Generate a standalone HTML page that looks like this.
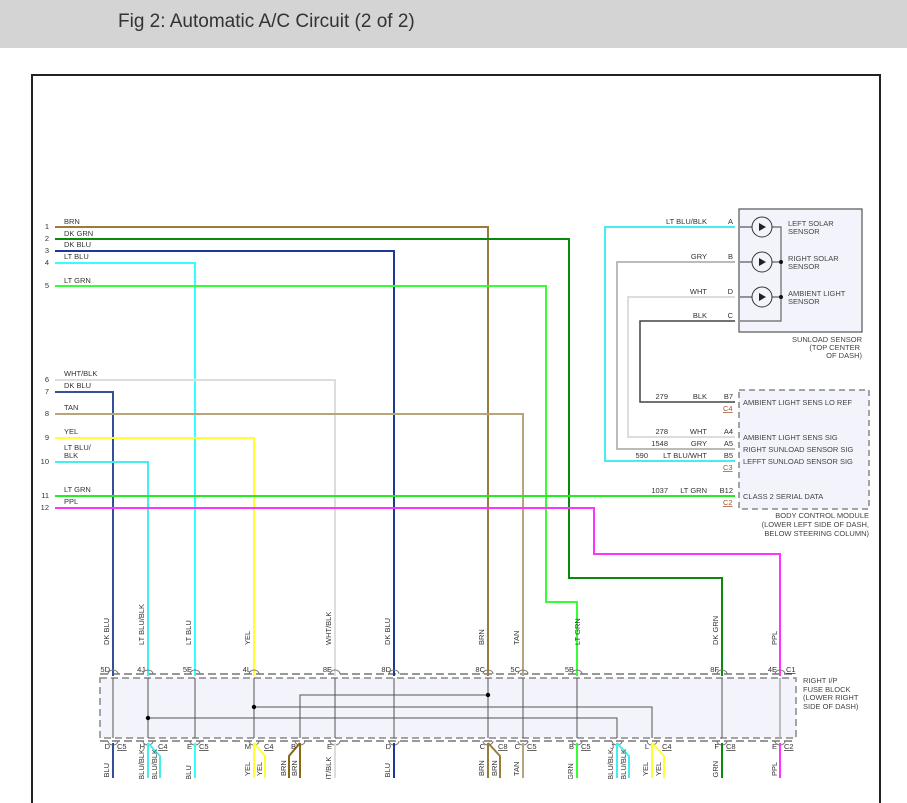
<!DOCTYPE html>
<html><head><meta charset="utf-8"><style>
html,body{margin:0;padding:0;background:#fff;width:907px;height:803px;overflow:hidden}
svg{display:block;font-family:"Liberation Sans",sans-serif}
</style></head><body>
<svg width="907" height="803" viewBox="0 0 907 803" xmlns="http://www.w3.org/2000/svg">
<rect x="0" y="0" width="907" height="48" fill="#d4d4d4"/>
<text x="118" y="27" font-size="19" fill="#333">Fig 2: Automatic A/C Circuit (2 of 2)</text>
<path d="M32 803 V75 H880 V803" fill="none" stroke="#222" stroke-width="2"/>

<!-- sunload sensor box -->
<rect x="739" y="209" width="123" height="123" fill="#f3f3fc" stroke="#555" stroke-width="1.2"/>
<path d="M772 227 H781 V321 H740 M772 262 H781 M772 297 H781" fill="none" stroke="#666" stroke-width="1.2"/>
<circle cx="781" cy="262" r="2" fill="#111"/><circle cx="781" cy="297" r="2" fill="#111"/>
<g fill="none" stroke="#333" stroke-width="1">
<circle cx="762" cy="227" r="10"/><circle cx="762" cy="262" r="10"/><circle cx="762" cy="297" r="10"/>
<path d="M740 227 H752 M740 262 H752 M740 297 H752"/>
</g>
<g fill="#222"><path d="M759 223 L766 227 L759 231Z"/><path d="M759 258 L766 262 L759 266Z"/><path d="M759 293 L766 297 L759 301Z"/></g>
<g font-size="7.5" fill="#444">
<text x="788" y="226">LEFT SOLAR</text><text x="788" y="234">SENSOR</text>
<text x="788" y="261">RIGHT SOLAR</text><text x="788" y="269">SENSOR</text>
<text x="788" y="296">AMBIENT LIGHT</text><text x="788" y="304">SENSOR</text>
<text x="862" y="342" text-anchor="end">SUNLOAD SENSOR</text>
<text x="860" y="350" text-anchor="end">(TOP CENTER</text>
<text x="862" y="358" text-anchor="end">OF DASH)</text>
</g>

<!-- BCM -->
<rect x="739" y="390" width="130" height="119" fill="#f3f3fc" stroke="#888" stroke-width="1.5" stroke-dasharray="6,4"/>
<g font-size="7.5" fill="#444">
<text x="743" y="405">AMBIENT LIGHT SENS LO REF</text>
<text x="743" y="440">AMBIENT LIGHT SENS SIG</text>
<text x="743" y="452">RIGHT SUNLOAD SENSOR SIG</text>
<text x="743" y="464">LEFFT SUNLOAD SENSOR SIG</text>
<text x="743" y="499">CLASS 2 SERIAL DATA</text>
<text x="869" y="518" text-anchor="end">BODY CONTROL MODULE</text>
<text x="869" y="527" text-anchor="end">(LOWER LEFT SIDE OF DASH,</text>
<text x="869" y="536" text-anchor="end">BELOW STEERING COLUMN)</text>
</g>

<!-- fuse block -->
<rect x="100" y="678" width="696" height="60" fill="#f3f3fc" stroke="#888" stroke-width="1.5" stroke-dasharray="7,4"/>
<path d="M100 674 H796 M100 741 H796" stroke="#777" stroke-width="1.5" stroke-dasharray="8,4"/>
<g font-size="7.5" fill="#444">
<text x="803" y="683">RIGHT I/P</text><text x="803" y="692">FUSE BLOCK</text>
<text x="803" y="700">(LOWER RIGHT</text><text x="803" y="709">SIDE OF DASH)</text>
</g>

<!-- wires top -->
<g fill="none" stroke-width="2">
<path d="M55 227 H488 V676" stroke="#9b7b3a"/>
<path d="M55 239 H569 V578 H722 V676" stroke="#0a8a0a"/>
<path d="M55 251 H394 V676" stroke="#1a3a9a"/>
<path d="M55 263 H195 V676" stroke="#3ff"/>
<path d="M55 286 H546 V602 H577 V676" stroke="#3f3"/>
<path d="M55 380 H335 V676" stroke="#ddd"/>
<path d="M55 392 H113 V676" stroke="#33509a"/>
<path d="M55 414 H523 V676" stroke="#b8a47a"/>
<path d="M55 438 H254 V676" stroke="#ff3"/>
<path d="M55 462 H148 V676" stroke="#4ee"/>
<path d="M55 496 H735" stroke="#2e2"/>
<path d="M55 508 H594 V554 H780 V676" stroke="#f3f"/>
<path d="M735 227 H605 V461 H735" stroke="#4ee"/>
<path d="M735 262 H617 V449 H735" stroke="#bbb"/>
<path d="M735 297 H628 V437 H735" stroke="#ddd"/>
<path d="M735 321 H640 V402 H735" stroke="#444" stroke-width="1.5"/>
</g>
<g font-size="7.5" fill="#333">
<text x="64" y="224">BRN</text><text x="64" y="236">DK GRN</text><text x="64" y="247">DK BLU</text><text x="64" y="259">LT BLU</text>
<text x="64" y="283">LT GRN</text><text x="64" y="376">WHT/BLK</text><text x="64" y="388">DK BLU</text><text x="64" y="410">TAN</text>
<text x="64" y="434">YEL</text><text x="64" y="450">LT BLU/</text><text x="64" y="458">BLK</text>
<text x="64" y="492">LT GRN</text><text x="64" y="504">PPL</text>
</g>
<g font-size="7.5" fill="#333" text-anchor="end">
<text x="49" y="229">1</text><text x="49" y="241">2</text><text x="49" y="253">3</text><text x="49" y="265">4</text><text x="49" y="288">5</text>
<text x="49" y="382">6</text><text x="49" y="394">7</text><text x="49" y="416">8</text><text x="49" y="440">9</text><text x="49" y="464">10</text>
<text x="49" y="498">11</text><text x="49" y="510">12</text>
<text x="707" y="224">LT BLU/BLK</text><text x="733" y="224">A</text>
<text x="707" y="259">GRY</text><text x="733" y="259">B</text>
<text x="707" y="294">WHT</text><text x="733" y="294">D</text>
<text x="707" y="318">BLK</text><text x="733" y="318">C</text>
<text x="668" y="399">279</text><text x="707" y="399">BLK</text><text x="733" y="399">B7</text>
<text x="668" y="434">278</text><text x="707" y="434">WHT</text><text x="733" y="434">A4</text>
<text x="668" y="446">1548</text><text x="707" y="446">GRY</text><text x="733" y="446">A5</text>
<text x="648" y="458">590</text><text x="707" y="458">LT BLU/WHT</text><text x="733" y="458">B5</text>
<text x="668" y="493">1037</text><text x="707" y="493">LT GRN</text><text x="733" y="493">B12</text>
</g>
<g font-size="7.5" fill="#a0522d" text-decoration="underline">
<text x="723" y="411">C4</text><text x="723" y="470">C3</text><text x="723" y="505">C2</text>
</g>

<!-- vertical labels above fuse block -->
<g font-size="7.5" fill="#333">
<text transform="translate(109,645) rotate(-90)">DK BLU</text>
<text transform="translate(144,645) rotate(-90)">LT BLU/BLK</text>
<text transform="translate(191,645) rotate(-90)">LT BLU</text>
<text transform="translate(250,645) rotate(-90)">YEL</text>
<text transform="translate(331,645) rotate(-90)">WHT/BLK</text>
<text transform="translate(390,645) rotate(-90)">DK BLU</text>
<text transform="translate(484,645) rotate(-90)">BRN</text>
<text transform="translate(519,645) rotate(-90)">TAN</text>
<text transform="translate(580,645) rotate(-90)">LT GRN</text>
<text transform="translate(718,645) rotate(-90)">DK GRN</text>
<text transform="translate(777,645) rotate(-90)">PPL</text>
</g>
<g font-size="7.5" fill="#333" text-anchor="end">
<text x="110" y="672">5D</text><text x="145" y="672">4J</text><text x="192" y="672">5E</text><text x="251" y="672">4L</text>
<text x="332" y="672">8E</text><text x="391" y="672">8D</text><text x="485" y="672">8C</text><text x="520" y="672">5C</text>
<text x="574" y="672">5B</text><text x="719" y="672">8F</text><text x="777" y="672">4E</text>
</g>
<text x="786" y="672" font-size="7.5" fill="#333" text-decoration="underline">C1</text>

<!-- internal connections -->
<g fill="none" stroke="#555" stroke-width="1">
<path d="M113 678 V738 M148 678 V738 M195 678 V738 M254 678 V738 M335 678 V738 M394 678 V738 M488 678 V738 M523 678 V738 M577 678 V738 M722 678 V738"/>
<path d="M780 678 V738" stroke="#aaa" stroke-width="1.5"/>
<path d="M488 695 H300 V738 M254 707 H652 V738 M148 718 H617 V738"/>
</g>
<g fill="#000"><circle cx="488" cy="695" r="2.2"/><circle cx="254" cy="707" r="2.2"/><circle cx="148" cy="718" r="2.2"/></g>
<g fill="none" stroke="#777" stroke-width="1">
<path d="M108 674 a5 4 0 0 1 10 0 M143 674 a5 4 0 0 1 10 0 M190 674 a5 4 0 0 1 10 0 M249 674 a5 4 0 0 1 10 0 M330 674 a5 4 0 0 1 10 0 M389 674 a5 4 0 0 1 10 0 M483 674 a5 4 0 0 1 10 0 M518 674 a5 4 0 0 1 10 0 M572 674 a5 4 0 0 1 10 0 M717 674 a5 4 0 0 1 10 0 M775 674 a5 4 0 0 1 10 0"/>
<path d="M108 741 a5 4 0 0 0 10 0 M143 741 a5 4 0 0 0 10 0 M190 741 a5 4 0 0 0 10 0 M249 741 a5 4 0 0 0 10 0 M295 741 a5 4 0 0 0 10 0 M330 741 a5 4 0 0 0 10 0 M389 741 a5 4 0 0 0 10 0 M483 741 a5 4 0 0 0 10 0 M518 741 a5 4 0 0 0 10 0 M572 741 a5 4 0 0 0 10 0 M612 741 a5 4 0 0 0 10 0 M647 741 a5 4 0 0 0 10 0 M717 741 a5 4 0 0 0 10 0 M775 741 a5 4 0 0 0 10 0"/>
</g>

<!-- bottom wires -->
<g fill="none" stroke-width="2">
<path d="M113 743 V778" stroke="#33509a"/>
<path d="M148 743 V778 M148 743 L160 756 V778" stroke="#4ee"/>
<path d="M195 743 V778" stroke="#3ff"/>
<path d="M254 743 V778 M254 743 L265 756 V778" stroke="#ff3"/>
<path d="M300 743 V778 M300 743 L289 756 V778" stroke="#8b6914"/>
<path d="M335 743 V778" stroke="#ddd"/>
<path d="M394 743 V778" stroke="#1a3a9a"/>
<path d="M488 743 V778 M488 743 L500 756 V778" stroke="#9b7b3a"/>
<path d="M523 743 V778" stroke="#b8a47a"/>
<path d="M577 743 V778" stroke="#3f3"/>
<path d="M617 743 V778 M617 743 L629 756 V778" stroke="#4ee"/>
<path d="M652 743 V778 M652 743 L664 756 V778" stroke="#ff3"/>
<path d="M722 743 V778" stroke="#0a8a0a"/>
<path d="M780 743 V778" stroke="#f3f"/>
</g>
<g font-size="7.5" fill="#333" text-anchor="end">
<text x="110" y="749">D</text><text x="145" y="749">H</text><text x="192" y="749">E</text><text x="251" y="749">M</text>
<text x="296" y="749">B</text><text x="332" y="749">E</text><text x="391" y="749">D</text><text x="485" y="749">C</text>
<text x="520" y="749">C</text><text x="574" y="749">B</text><text x="614" y="749">J</text><text x="649" y="749">L</text>
<text x="719" y="749">F</text><text x="777" y="749">E</text>
</g>
<g font-size="7.5" fill="#333" text-decoration="underline">
<text x="117" y="749">C5</text><text x="158" y="749">C4</text><text x="199" y="749">C5</text><text x="264" y="749">C4</text>
<text x="498" y="749">C8</text><text x="527" y="749">C5</text><text x="581" y="749">C5</text><text x="662" y="749">C4</text>
<text x="726" y="749">C8</text><text x="784" y="749">C2</text>
</g>
<g font-size="7.5" fill="#333">
<text transform="translate(109,790) rotate(-90)">DK BLU</text>
<text transform="translate(144,790) rotate(-90)">LT BLU/BLK</text>
<text transform="translate(157,790) rotate(-90)">LT BLU/BLK</text>
<text transform="translate(191,790) rotate(-90)">LT BLU</text>
<text transform="translate(250,776) rotate(-90)">YEL</text>
<text transform="translate(262,776) rotate(-90)">YEL</text>
<text transform="translate(286,776) rotate(-90)">BRN</text>
<text transform="translate(297,776) rotate(-90)">BRN</text>
<text transform="translate(331,790) rotate(-90)">WHT/BLK</text>
<text transform="translate(390,790) rotate(-90)">DK BLU</text>
<text transform="translate(484,776) rotate(-90)">BRN</text>
<text transform="translate(497,776) rotate(-90)">BRN</text>
<text transform="translate(519,776) rotate(-90)">TAN</text>
<text transform="translate(573,790) rotate(-90)">LT GRN</text>
<text transform="translate(613,790) rotate(-90)">LT BLU/BLK</text>
<text transform="translate(626,790) rotate(-90)">LT BLU/BLK</text>
<text transform="translate(648,776) rotate(-90)">YEL</text>
<text transform="translate(661,776) rotate(-90)">YEL</text>
<text transform="translate(718,790) rotate(-90)">DK GRN</text>
<text transform="translate(777,776) rotate(-90)">PPL</text>
</g>
<rect x="33" y="779" width="846" height="24" fill="#fff"/>
<path d="M32 779 V803 M880 779 V803" stroke="#222" stroke-width="2"/>
</svg>
</body></html>
